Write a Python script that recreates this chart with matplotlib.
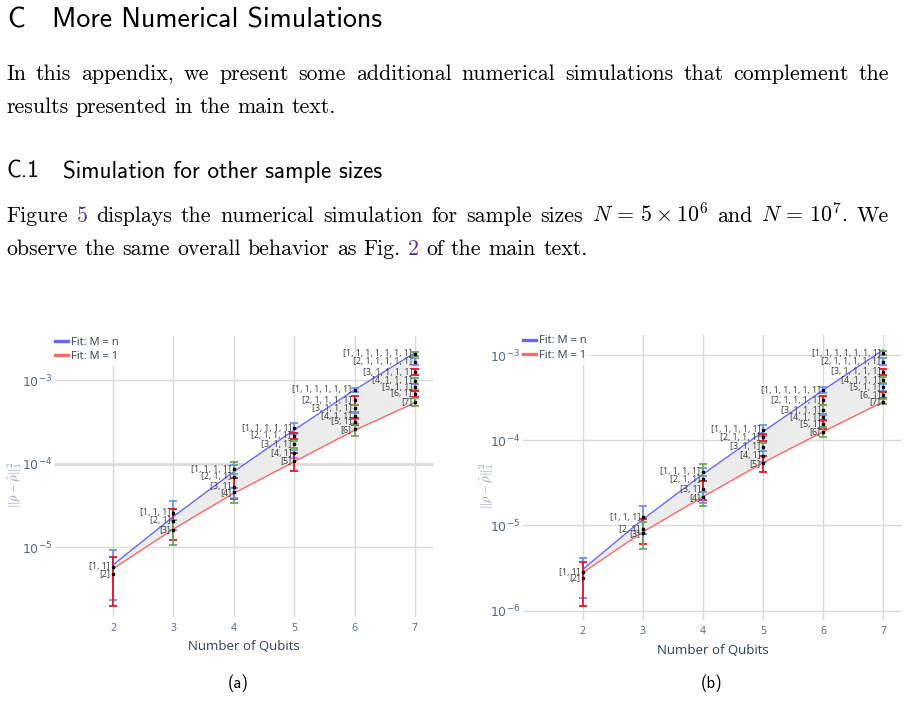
import numpy as np
import matplotlib
matplotlib.use('Agg')
import matplotlib.pyplot as plt
from matplotlib.lines import Line2D

W, H = 908, 715

qubits = [2, 3, 4, 5, 6, 7]

partition_labels = [
    ["[1, 1]", "[2]"],
    ["[1, 1, 1]", "[2, 1]", "[3]"],
    ["[1, 1, 1, 1]", "[2, 1, 1]", "[3, 1]", "[4]"],
    ["[1, 1, 1, 1, 1]", "[2, 1, 1, 1]", "[3, 1, 1]", "[4, 1]", "[5]"],
    ["[1, 1, 1, 1, 1, 1]", "[2, 1, 1, 1, 1]", "[3, 1, 1, 1]", "[4, 1, 1]", "[5, 1]", "[6]"],
    ["[1, 1, 1, 1, 1, 1, 1]", "[2, 1, 1, 1, 1, 1]", "[3, 1, 1, 1, 1]", "[4, 1, 1, 1]",
     "[5, 1, 1]", "[6, 1]", "[7]"],
]

# (a) N = 5e6
mean_a = [
    [5.8e-6, 4.8e-6],
    [2.57e-5, 2.05e-5, 1.6e-5],
    [8.5e-5, 6.95e-5, 5.27e-5, 4.5e-5],
    [2.64e-4, 2.15e-4, 1.7e-4, 1.32e-4, 1.07e-4],
    [7.6e-4, 5.75e-4, 4.58e-4, 3.7e-4, 3.17e-4, 2.56e-4],
    [2.05e-3, 1.66e-3, 1.24e-3, 9.8e-4, 8.2e-4, 6.8e-4, 5.5e-4],
]
err_a = [
    [3.5e-6, 2.85e-6],
    [0.95e-5, 0.82e-5, 0.53e-5],
    [1.0e-5, 3.55e-5, 1.5e-5, 0.6e-5],
    [0.4e-4, 0.2e-4, 0.15e-4, 0.15e-4, 0.25e-4],
    [0.5e-4, 0.7e-4, 0.4e-4, 0.3e-4, 0.3e-4, 0.4e-4],
    [1.2e-4, 1.5e-4, 1.0e-4, 0.8e-4, 0.7e-4, 0.6e-4, 0.6e-4],
]
fit_n_a = [6.1e-6, 2.31e-5, 8.0e-5, 2.52e-4, 7.6e-4, 2.12e-3]
fit_1_a = [5.5e-6, 1.64e-5, 4.4e-5, 1.05e-4, 2.5e-4, 5.35e-4]

# (b) N = 1e7
mean_b = [
    [2.81e-6, 2.43e-6],
    [1.245e-5, 9.0e-6, 8.07e-6],
    [4.27e-5, 3.5e-5, 2.65e-5, 2.14e-5],
    [1.32e-4, 1.08e-4, 8.4e-5, 6.58e-5, 5.36e-5],
    [3.88e-4, 2.96e-4, 2.26e-4, 1.86e-4, 1.54e-4, 1.26e-4],
    [1.05e-3, 8.34e-4, 6.37e-4, 5.09e-4, 4.18e-4, 3.39e-4, 2.83e-4],
]
err_b = [
    [1.4e-6, 1.28e-6],
    [4.5e-6, 3.0e-6, 2.8e-6],
    [0.5e-5, 1.8e-5, 0.65e-5, 0.3e-5],
    [0.2e-4, 0.1e-4, 0.1e-4, 0.1e-4, 1.1e-5],
    [0.3e-4, 0.35e-4, 0.3e-4, 0.2e-4, 0.2e-4, 0.16e-4],
    [0.6e-4, 0.8e-4, 0.5e-4, 0.4e-4, 0.4e-4, 0.3e-4, 0.2e-4],
]
fit_n_b = [3.05e-6, 1.18e-5, 4.0e-5, 1.26e-4, 3.88e-4, 1.15e-3]
fit_1_b = [2.79e-6, 8.4e-6, 2.17e-5, 5.45e-5, 1.26e-4, 2.83e-4]

# error bar colour keys, same for both panels
bar_keys = ["br", "brg", "bgrb", "brgbr", "brgbrg", "gbrgbrg"]
bar_colors = {"b": "#6b94ec", "r": "#e8152d", "g": "#6fa85a"}

plt.rcParams['mathtext.fontset'] = 'dejavusans'
fig = plt.figure(figsize=(W / 100, H / 100), dpi=100)
renderer = fig.canvas.get_renderer()


def text_width(s, size, family):
    t = fig.text(0, 0, s, fontsize=size, family=family, math_fontfamily='cm')
    w = t.get_window_extent(renderer).width
    t.remove()
    return w


def put_line(tokens, x0, y, size, x1=None, family='cmr10'):
    objs = []
    for s, c in tokens:
        objs.append(fig.text(0, 1 - y / H, s, fontsize=size, family=family, color=c,
                             va='baseline', ha='left', math_fontfamily='cm'))
    widths = [t.get_window_extent(renderer).width for t in objs]
    if x1 is None:
        gap = text_width("a a", size, family) - text_width("aa", size, family)
    else:
        gap = (x1 - x0 - sum(widths)) / (len(objs) - 1)
    x = x0
    for t, w in zip(objs, widths):
        t.set_x(x / W)
        x += w + gap


# page text
link = "#5e2f93"
k = "black"
line1 = "In this appendix, we present some additional numerical simulations that complement the"
body = 10 * 855 / text_width(line1, 10, 'cmr10')
h1 = 10 * (383 - 52) / text_width("More Numerical Simulations", 10, 'cmss10')
h2 = 10 * (383 - 63) / text_width("Simulation for other sample sizes", 10, 'cmss10')

fig.text(7 / W, 1 - 28 / H, "C", fontsize=h1, family='cmss10', va='baseline')
fig.text(52 / W, 1 - 28 / H, "More Numerical Simulations", fontsize=h1, family='cmss10', va='baseline')
put_line([(w, k) for w in line1.split()], 6, 80, body, x1=889)
put_line([(w, k) for w in "results presented in the main text.".split()], 6, 113, body)
fig.text(7 / W, 1 - 178 / H, "C.1", fontsize=h2, family='cmss10', va='baseline')
fig.text(63 / W, 1 - 178 / H, "Simulation for other sample sizes", fontsize=h2, family='cmss10', va='baseline')
line3 = [("Figure", k), ("5", link), ("displays", k), ("the", k), ("numerical", k), ("simulation", k),
         ("for", k), ("sample", k), ("sizes", k), (r"$N\,=\,5\times10^6$", k), ("and", k),
         (r"$N\,=\,10^7$.", k), ("We", k)]
put_line(line3, 6, 222, body, x1=889)
line4 = [("observe", k), ("the", k), ("same", k), ("overall", k), ("behavior", k), ("as", k),
         ("Fig.", k), ("2", link), ("of", k), ("the", k), ("main", k), ("text.", k)]
put_line(line4, 6, 255, body)


def panel(rect, mean, err, fit_n, fit_1, xlim, ylim, yticks, thick_line, ylab_x):
    ax = fig.add_axes(rect)
    ax.set_yscale('log')
    ax.fill_between(qubits, fit_1, fit_n, color='#ececec', lw=0, zorder=1)
    ax.plot(qubits, fit_n, color='#6666ff', lw=1.0, zorder=2)
    ax.plot(qubits, fit_1, color='#ff6666', lw=1.0, zorder=2)
    for n, vals, errs, keys, labs in zip(qubits, mean, err, bar_keys, partition_labels):
        for v, e, c in zip(vals, errs, keys):
            ax.errorbar([n], [v], yerr=[e], fmt='none', ecolor=bar_colors[c], elinewidth=1.3,
                        capsize=2.6, capthick=1.3, zorder=3)
        ax.plot([n] * len(vals), vals, 's', color='black', ms=1.6, zorder=4)
        for v, lab in zip(vals, labs):
            ax.annotate(lab, (n, v), xytext=(-2, 0), textcoords='offset points', ha='right',
                        va='center', fontsize=6.4, family='Open Sans', color='#3a3a3a', zorder=5)
    ax.set_xlim(*xlim)
    ax.set_ylim(*ylim)
    ax.set_xticks(qubits)
    ax.set_xticklabels([str(q) for q in qubits])
    ax.set_yticks(yticks)
    ax.set_yticklabels([r"$10^{%d}$" % int(round(np.log10(t))) for t in yticks])
    ax.yaxis.set_minor_locator(matplotlib.ticker.NullLocator())
    for lab in ax.get_xticklabels():
        lab.set_family('Open Sans')
    ax.tick_params(length=0, labelsize=7.5, colors='#506784', pad=4)
    ax.tick_params(axis='y', labelsize=9, pad=2)
    ax.grid(True, color='#dadada', lw=1.0, zorder=0)
    ax.set_axisbelow(True)
    if thick_line is not None:
        ax.axhline(thick_line, color='#e2e2e2', lw=2.2, zorder=0)
    for s in ax.spines.values():
        s.set_visible(False)
    ax.set_xlabel("Number of Qubits", fontsize=9.5, family='Open Sans', color='#2a3f5f', labelpad=5)
    ax.set_ylabel(r"$\|\rho-\hat{\rho}\|_1^2$", fontsize=9, color='#8a9ab5',
                  math_fontfamily='cm', va='center')
    ax.yaxis.set_label_coords(ylab_x, 0.47)
    handles = [Line2D([], [], color='#6666ff', lw=2.4), Line2D([], [], color='#ff6666', lw=2.4)]
    leg = ax.legend(handles, ["Fit: M = n", "Fit: M = 1"], loc='upper left',
                    bbox_to_anchor=(-0.01, 1.01), prop={'family': 'Open Sans', 'size': 8},
                    frameon=True, fancybox=False, borderpad=0.3, handlelength=1.25,
                    handletextpad=0.25, labelspacing=0.3, borderaxespad=0)
    leg.get_frame().set_facecolor('white')
    leg.get_frame().set_edgecolor('white')
    for t in leg.get_texts():
        t.set_color('#2a3f5f')
    return ax


panel([55 / W, 1 - 617 / H, 378 / W, 281 / H], mean_a, err_a, fit_n_a, fit_1_a,
      (1.04, 7.3), (10 ** -5.838, 10 ** -2.473), [1e-5, 1e-4, 1e-3], 1e-4, (15 - 55) / 378)
panel([523 / W, 1 - 620 / H, 379 / W, 285 / H], mean_b, err_b, fit_n_b, fit_1_b,
      (1.007, 7.311), (10 ** -6.109, 10 ** -2.765), [1e-6, 1e-5, 1e-4, 1e-3], None, (487 - 523) / 379)

fig.text(238 / W, 1 - 683 / H, "(a)", fontsize=12, family='cmss10', ha='center', va='center')
fig.text(712 / W, 1 - 683 / H, "(b)", fontsize=12, family='cmss10', ha='center', va='center')

fig.savefig("out.png", dpi=100)
